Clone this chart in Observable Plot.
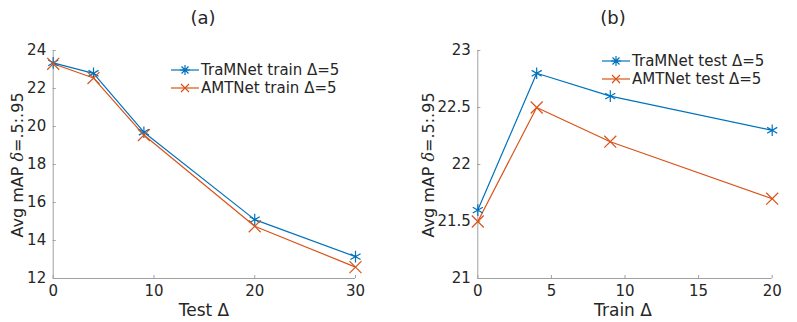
<!DOCTYPE html>
<html><head><meta charset="utf-8">
<script src="https://cdn.jsdelivr.net/npm/d3@7"></script>
<script src="https://cdn.jsdelivr.net/npm/@observablehq/plot@0.6"></script>
<style>
body{margin:0;background:#fff;font-family:"DejaVu Sans",sans-serif;color:#262626}
#wrap{position:relative;width:797px;height:322px;overflow:hidden}
.panel{position:absolute;top:0}
.t{position:absolute;font-size:17px;white-space:nowrap;transform:translate(-50%,-50%)}
.ti{position:absolute;font-size:18px;white-space:nowrap;transform:translate(-50%,-50%)}
.yl{position:absolute;font-size:16px;white-space:nowrap;transform:translate(-50%,-50%) rotate(-90deg)}
.leg{position:absolute;font-size:15px;white-space:nowrap}
.leg div{display:flex;align-items:center;height:18px}
.leg svg{margin-right:2px}
</style></head><body>
<div id="wrap"></div>
<script>
const colors = ["#0072BD", "#D95319"];

// Panel (a)
const xA = [0, 4, 9, 20, 30];
const traA = [23.35, 22.8, 19.7, 15.1, 13.15];
const amtA = [23.3, 22.55, 19.55, 14.75, 12.6];
const namesA = ["TraMNet train Δ=5", "AMTNet train Δ=5"];
const xTicksA = [0, 10, 20, 30];
const yTicksA = [12, 14, 16, 18, 20, 22, 24];

// Panel (b)
const xB = [0, 4, 9, 20];
const traB = [21.6, 22.8, 22.6, 22.3];
const amtB = [21.5, 22.5, 22.2, 21.7];
const namesB = ["TraMNet test Δ=5", "AMTNet test Δ=5"];
const xTicksB = [0, 5, 10, 15, 20];
const yTicksB = [21, 21.5, 22, 22.5, 23];

function rows(xs, ys, name){ return xs.map((x,i)=>({x, y: ys[i], name})); }

function panel(cfg){
  const data = [...rows(cfg.xs, cfg.s1, cfg.names[0]), ...rows(cfg.xs, cfg.s2, cfg.names[1])];
  const ty = (cfg.yd[1]-cfg.yd[0]) * 3 / 228;
  const tx = (cfg.xd[1]-cfg.xd[0]) * 3 / cfg.pw;
  return Plot.plot({
    width: cfg.width, height: 322,
    marginLeft: cfg.ml, marginRight: cfg.mr, marginTop: 50, marginBottom: 44,
    style: {fontFamily: "DejaVu Sans, sans-serif", fontSize: "15px", color: "#262626", background: "transparent", overflow: "visible"},
    x: {domain: cfg.xd, ticks: cfg.xt, label: null},
    y: {domain: cfg.yd, ticks: cfg.yt, label: null},
    color: {domain: cfg.names, range: colors},
    symbol: {domain: cfg.names, range: ["asterisk", "times"]},
    marks: [
      Plot.axisX({ticks: cfg.xt, tickSize: 0, tickPadding: 7, tickFormat: d => String(d), label: null, fill: "#262626", fontSize: 15}),
      Plot.axisY({ticks: cfg.yt, tickSize: 0, tickPadding: 7, tickFormat: d => String(d), label: null, fill: "#262626", fontSize: 15}),
      Plot.ruleX(cfg.xt, {x: d => d, y1: cfg.yd[0], y2: cfg.yd[0] + ty, stroke: "#a0a0a0"}),
      Plot.ruleY(cfg.yt, {y: d => d, x1: cfg.xd[0], x2: cfg.xd[0] + tx, stroke: "#a0a0a0"}),
      Plot.ruleX([cfg.xd[0]], {stroke: "#a0a0a0"}),
      Plot.ruleY([cfg.yd[0]], {stroke: "#a0a0a0"}),
      Plot.line(data, {x: "x", y: "y", z: "name", stroke: "name", strokeWidth: 1.2}),
      Plot.dot(data, {x: "x", y: "y", stroke: "name", symbol: "name", r: 5.5, strokeWidth: 1.2})
    ]
  });
}

const wrap = document.getElementById("wrap");
function addPanel(left, cfg, title, ylab, xlab, legPos){
  const d = document.createElement("div");
  d.className = "panel"; d.style.left = left + "px";
  d.appendChild(panel(cfg));
  wrap.appendChild(d);
  const t = document.createElement("div"); t.className = "ti";
  t.style.left = title[1] + "px"; t.style.top = "17px"; t.textContent = title[0]; wrap.appendChild(t);
  const y = document.createElement("div"); y.className = "yl";
  y.style.left = ylab[0] + "px"; y.style.top = ylab[1] + "px";
  y.innerHTML = 'Avg mAP <i style="font-family:\'DejaVu Serif\',serif">δ</i>=.5:.95'; wrap.appendChild(y);
  const x = document.createElement("div"); x.className = "t";
  x.style.left = xlab[1] + "px"; x.style.top = "310px"; x.textContent = xlab[0]; wrap.appendChild(x);
  const lg = document.createElement("div"); lg.className = "leg";
  lg.style.left = legPos[0] + "px"; lg.style.top = legPos[1] + "px";
  cfg.names.forEach((n, i) => {
    const r = document.createElement("div");
    const sym = i === 0
      ? '<path d="M14,4V14M9,9H19M10.5,5.5L17.5,12.5M17.5,5.5L10.5,12.5" stroke="'+colors[i]+'" stroke-width="1.2"/>'
      : '<path d="M10,5L18,13M18,5L10,13" stroke="'+colors[i]+'" stroke-width="1.2"/>';
    r.innerHTML = '<svg width="28" height="18"><line x1="0" x2="28" y1="9" y2="9" stroke="'+colors[i]+'" stroke-width="1.2"/>'+sym+'</svg><span>'+n+'</span>';
    lg.appendChild(r);
  });
  wrap.appendChild(lg);
}

addPanel(0, {width: 398, ml: 52.7, mr: 43, pw: 302.3, xs: xA, s1: traA, s2: amtA, names: namesA, xd: [0, 30], yd: [12, 24], xt: xTicksA, yt: yTicksA},
  ["(a)", 203], [17, 165], ["Test Δ", 204], [171, 61]);
addPanel(398, {width: 399, ml: 79.3, mr: 25.3, pw: 294.4, xs: xB, s1: traB, s2: amtB, names: namesB, xd: [0, 20], yd: [21, 23], xt: xTicksB, yt: yTicksB},
  ["(b)", 613], [428, 165], ["Train Δ", 623], [602, 52]);
</script>
</body></html>
